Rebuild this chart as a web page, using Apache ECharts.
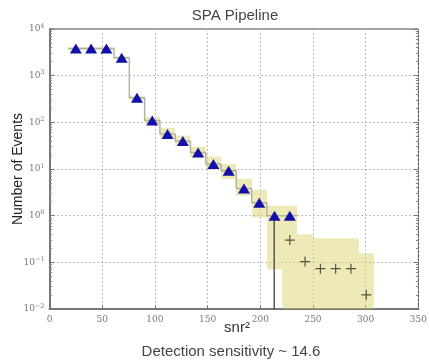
<!DOCTYPE html>
<html>
<head>
<meta charset="utf-8">
<script src="https://cdn.jsdelivr.net/npm/echarts@6/dist/echarts.min.js"></script>
<style>
html,body{margin:0;padding:0;background:#fff;}
#chart{width:430px;height:361px;}
</style>
</head>
<body>
<div id="chart"></div>
<script>
// ---- data ----
const binCenters = [25, 39.5, 54, 68.5, 83, 97.5, 112, 126.5, 141, 155.5, 170, 184.5, 199, 213.5, 228, 242.5, 257, 271.5, 286, 300.5];
const binWidth = 14.5;
const bandHigh = [4050, 4050, 4050, 2600, 370, 129, 76, 52, 30, 18.4, 12.8, 6.1, 3.55, 1.63, 1.63, 0.40, 0.33, 0.33, 0.33, 0.157];
const bandLow  = [3560, 3560, 3560, 2270, 305, 93, 44, 31.8, 17.8, 10, 6.1, 2.67, 0.91, 0.071, 0.01, 0.01, 0.01, 0.01, 0.01, 0.01];
const triangleX = [25, 39.5, 54, 68.5, 83, 97.5, 112, 126.5, 141, 155.5, 170, 184.5, 199, 213.5, 228];
const triangleY = [3800, 3800, 3800, 2430, 336, 109, 56, 40, 22.5, 12.8, 9.2, 3.8, 1.9, 1.0, 1.0];
const crossX = [228, 242.5, 257, 271.5, 286, 300.5];
const crossY = [0.3, 0.104, 0.073, 0.073, 0.073, 0.02];
const detectionSnr = 14.6;
const thresholdY = [1.0, 0.01];
const xTicks = [0, 50, 100, 150, 200, 250, 300, 350];
const yExponents = [-2, -1, 0, 1, 2, 3, 4];

// ---- derived tables ----
const bandData = binCenters.map((c, i) => [c, bandLow[i], bandHigh[i]]);
const stepData = triangleX.map((c, i) => [c - binWidth / 2, triangleY[i]]);
stepData.push([triangleX[triangleX.length - 1] + binWidth / 2, triangleY[triangleY.length - 1]]);
const triData = triangleX.map((x, i) => [x, triangleY[i]]);
const crossData = crossX.map((x, i) => [x, crossY[i]]);
const thrX = detectionSnr * detectionSnr;
const thrData = thresholdY.map(y => [thrX, y]);

const chart = echarts.init(document.getElementById('chart'), null, {renderer: 'canvas'});
const serif = '"DejaVu Serif", "Liberation Serif", serif';
const sans = '"Liberation Sans", Arial, sans-serif';

const yLabel = {
  show: true,
  fontFamily: serif,
  fontSize: 9,
  color: '#777',
  margin: 5,
  formatter: v => {
    const e = Math.round(Math.log10(v));
    return '10{s|' + (e < 0 ? '\u2212' : '') + Math.abs(e) + '}';
  },
  rich: {s: {fontSize: 6.5, fontFamily: serif, color: '#777', verticalAlign: 'top', padding: [0, 0, 6, 0]}}
};

const option = {
  animation: false,
  grid: {left: 49.5, right: 5, top: 29, bottom: 52, show: true, borderColor: '#444', borderWidth: 1},
  xAxis: {
    type: 'value', min: 0, max: 350, interval: 50,
    axisLine: {show: true, lineStyle: {color: '#777', width: 2}},
    axisTick: {show: true, inside: true, length: 4, lineStyle: {color: '#777'}},
    axisLabel: {fontFamily: serif, fontSize: 9, color: '#777', margin: 6},
    splitLine: {show: true, lineStyle: {type: [1.5, 2.5], color: '#aaa', width: 1}}
  },
  yAxis: [{
    type: 'log', logBase: 10, min: 0.01, max: 10000,
    axisLine: {show: true, lineStyle: {color: '#777', width: 2}},
    axisTick: {show: true, inside: true, length: 5, lineStyle: {color: '#777'}},
    minorTick: {show: true, splitNumber: 9, length: 2.5, lineStyle: {color: '#888'}},
    axisLabel: yLabel,
    splitLine: {show: true, lineStyle: {type: [1.5, 2.5], color: '#aaa', width: 1}}
  }, {
    type: 'log', logBase: 10, min: 0.01, max: 10000, position: 'right',
    axisLine: {show: false},
    axisTick: {show: true, inside: true, length: 5, lineStyle: {color: '#777'}},
    minorTick: {show: true, splitNumber: 9, length: 2.5, lineStyle: {color: '#888'}},
    axisLabel: {show: false},
    splitLine: {show: false}
  }],
  series: [
    {
      type: 'custom', name: 'band', data: bandData, z: 1, clip: true,
      renderItem: (params, api) => {
        const c = api.value(0), lo = api.value(1), hi = api.value(2);
        const p1 = api.coord([c - binWidth / 2, hi]);
        const p2 = api.coord([c + binWidth / 2, lo]);
        return {type: 'rect', shape: {x: Math.round(p1[0]), y: p1[1], width: Math.round(p2[0]) - Math.round(p1[0]), height: p2[1] - p1[1]},
          style: {fill: 'rgba(214,208,96,0.45)', stroke: null}};
      }
    },
    {
      type: 'line', name: 'step', data: stepData, step: 'end', showSymbol: false, z: 2,
      lineStyle: {color: '#b4b3a0', width: 1.5}
    },
    {
      type: 'line', name: 'threshold', data: thrData, showSymbol: false, z: 3,
      lineStyle: {color: '#333', width: 1.2}
    },
    {
      type: 'scatter', name: 'triangles', data: triData, z: 4,
      symbol: 'triangle', symbolSize: [12, 10],
      itemStyle: {color: '#1111a8', opacity: 1}
    },
    {
      type: 'scatter', name: 'crosses', data: crossData, z: 4,
      symbol: 'path://M4.4,0h1.2v4.4h4.4v1.2h-4.4v4.4h-1.2v-4.4h-4.4v-1.2h4.4z', symbolSize: 10,
      itemStyle: {color: '#55553f', opacity: 1}
    }
  ],
  graphic: [
    {type: 'text', x: 235, y: 16, style: {text: 'SPA Pipeline', fontFamily: sans, fontSize: 15, fill: '#444', textAlign: 'center', textVerticalAlign: 'middle'}},
    {type: 'text', x: 18, y: 169, rotation: Math.PI / 2, style: {text: 'Number of Events', fontFamily: sans, fontSize: 14, fill: '#222', textAlign: 'center', textVerticalAlign: 'middle'}},
    {type: 'text', x: 237, y: 328, style: {text: 'snr\u00B2', fontFamily: sans, fontSize: 15, fill: '#333', textAlign: 'center', textVerticalAlign: 'middle'}},
    {type: 'text', x: 231, y: 352, style: {text: 'Detection sensitivity ~ 14.6', fontFamily: sans, fontSize: 15, fill: '#444', textAlign: 'center', textVerticalAlign: 'middle'}}
  ]
};
chart.setOption(option);
</script>
</body>
</html>
